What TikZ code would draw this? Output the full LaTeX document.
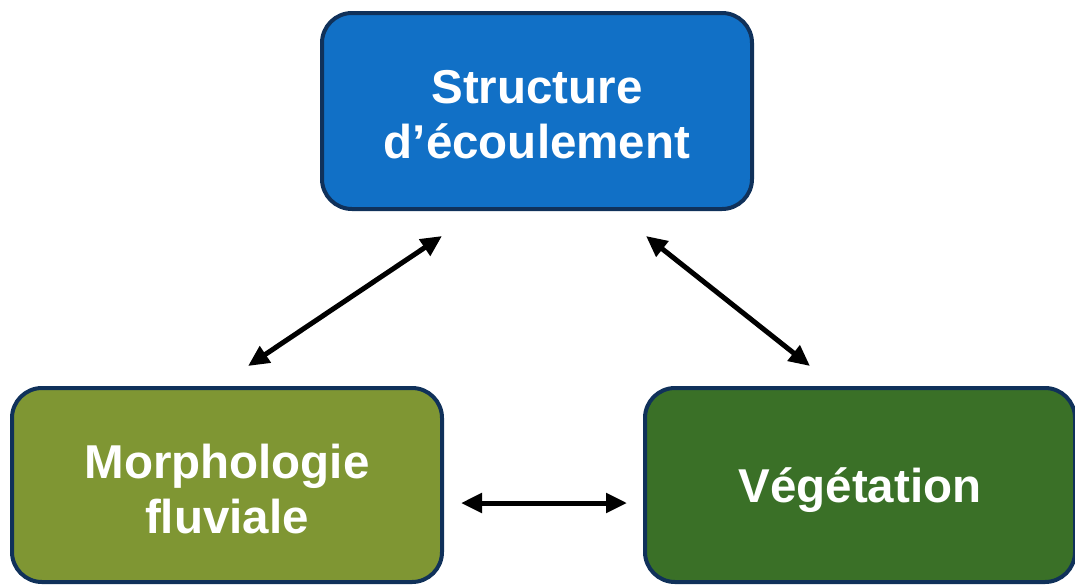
\documentclass[tikz,border=0pt]{standalone}
\usepackage{fontspec}
\setmainfont{Liberation Sans}
\usetikzlibrary{arrows.meta}
\definecolor{topblue}{HTML}{1170C6}
\definecolor{morphgreen}{HTML}{7F9633}
\definecolor{vegreen}{HTML}{3A7027}
\definecolor{navy}{HTML}{10315A}
\tikzset{
  box/.style={draw=navy, line width=4pt, rounded corners=30pt, minimum width=430pt},
  boxtext/.style={align=center, text=white, inner sep=0pt, font=\fontsize{47.5}{55}\selectfont\bfseries},
  link/.style={line width=5pt, {Triangle[length=21pt,width=19pt]}-{Triangle[length=21pt,width=19pt]}}
}
\begin{document}
\begin{tikzpicture}[x=1pt,y=1pt]
\useasboundingbox (0,0) rectangle (1075,-587);
\node[box, fill=topblue, minimum height=196pt] (flow) at (537,-111) {};
\node[box, fill=morphgreen, minimum height=194pt] (morph) at (227,-485) {};
\node[box, fill=vegreen, minimum height=194pt] (veg) at (860,-485) {};
\node[boxtext] (flowtext) at ([yshift=-4pt]flow.center) {Structure\\d’écoulement};
\node[boxtext] (morphtext) at ([yshift=-4pt]morph.center) {Morphologie\\fluviale};
\node[boxtext] (vegtext) at ([yshift=-5pt]veg.center) {Végétation};
\coordinate (a1) at (248,-366);
\coordinate (a2) at (442,-236);
\coordinate (b1) at (646,-236);
\coordinate (b2) at (810,-366);
\coordinate (c1) at (461,-503);
\coordinate (c2) at (627,-503);
\draw[link] (a1) -- (a2);
\draw[link] (b1) -- (b2);
\draw[link] (c1) -- (c2);
\end{tikzpicture}
\end{document}
